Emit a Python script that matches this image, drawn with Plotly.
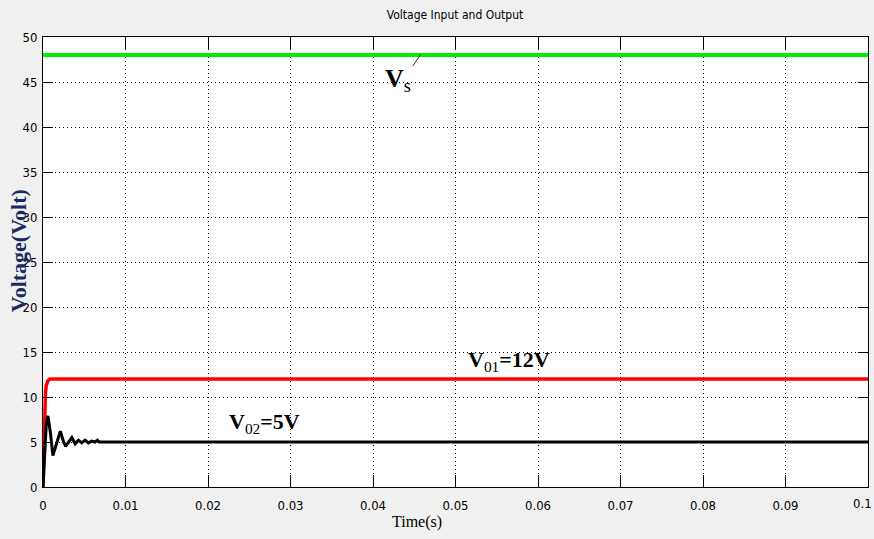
import plotly.graph_objects as go

# Data
t_vs = [0.0, 0.1]
v_s = [48.0, 48.0]

t_v01 = [0.0, 0.0001, 0.0002, 0.0003, 0.0004, 0.0006, 0.0008, 0.0010, 0.1]
v_01 = [0.0, 4.0, 8.5, 10.5, 11.3, 11.8, 12.0, 12.0, 12.0]

t_v02 = [0.0, 0.0002, 0.0004, 0.0006, 0.0009, 0.0012, 0.0016, 0.0021, 0.0025,
         0.00275, 0.0031, 0.0035, 0.0039, 0.0043, 0.0047, 0.0051, 0.0055, 0.0059,
         0.0063, 0.0066, 0.0068, 0.1]
v_02 = [0.0, 3.5, 7.0, 7.9, 6.0, 3.5, 4.8, 6.2, 5.0,
        4.5, 5.0, 5.5, 4.8, 5.2, 4.9, 5.2, 4.9, 5.1,
        5.0, 5.2, 5.0, 5.0]

x_ticks = [0, 0.01, 0.02, 0.03, 0.04, 0.05, 0.06, 0.07, 0.08, 0.09, 0.1]
x_tick_labels = ["0", "0.01", "0.02", "0.03", "0.04", "0.05", "0.06", "0.07", "0.08", "0.09", "0.1"]
y_ticks = [0, 5, 10, 15, 20, 25, 30, 35, 40, 45, 50]

narrow = "DejaVu Sans Condensed, Liberation Sans Narrow, Arial Narrow, sans-serif"
tick_font = dict(family=narrow, size=13, color="black")
serif = "Liberation Serif, Times New Roman, serif"

fig = go.Figure()
fig.add_trace(go.Scatter(x=t_vs, y=v_s, mode="lines", line=dict(color="#00ee00", width=4), showlegend=False))
fig.add_trace(go.Scatter(x=t_v01, y=v_01, mode="lines", line=dict(color="#ff0000", width=3.5), showlegend=False))
fig.add_trace(go.Scatter(x=t_v02, y=v_02, mode="lines", line=dict(color="#000000", width=3), showlegend=False))

fig.update_layout(
    width=874, height=539,
    margin=dict(l=43, r=6, t=37, b=52, autoexpand=False),
    paper_bgcolor="#f0f0f0",
    plot_bgcolor="white",
    showlegend=False,
    title=dict(text="Voltage Input and Output", x=455 / 874, xanchor="center", y=1 - 15 / 539, yanchor="middle",
               font=dict(family=narrow, size=12, color="black")),
)
grid_common = dict(
    showgrid=True, gridcolor="black", griddash="1px,3px", gridwidth=1,
    showline=True, linecolor="black", linewidth=1, mirror="ticks",
    tickcolor="black", zeroline=False, ticks="inside",
    tickfont=tick_font, ticklabeloverflow="allow", automargin=False,
)
# last x tick label is drawn as an annotation so it fits inside the page edge
x_axis_text = x_tick_labels[:-1] + [""]
fig.update_xaxes(range=[0, 0.1], tickvals=x_ticks, ticktext=x_axis_text, ticklen=12,
                 ticklabelstandoff=6, **grid_common)
fig.update_yaxes(range=[0, 50], tickvals=y_ticks, ticklen=10, ticklabelstandoff=2, **grid_common)

plot_w = 874 - 43 - 6
plot_h = 487 - 37
annotations = [
    dict(x=0.0458, y=48.1, ax=0.0447, ay=46.6, axref="x", ayref="y", xref="x", yref="y",
         text="", showarrow=True, arrowhead=0, arrowwidth=1, arrowcolor="#333333"),
    dict(x=0.0449, y=45.2, xref="x", yref="y", showarrow=False, xanchor="right",
         text="<b>V</b><sub>s</sub>", font=dict(family=serif, size=26, color="black")),
    dict(x=0.0565, y=14.0, xref="x", yref="y", showarrow=False,
         text="<b>V</b><sub>01</sub><b>=12V</b>", font=dict(family=serif, size=22, color="black")),
    dict(x=0.0269, y=7.1, xref="x", yref="y", showarrow=False,
         text="<b>V</b><sub>02</sub><b>=5V</b>", font=dict(family=serif, size=22, color="black")),
    dict(x=(417 - 43) / plot_w, y=-(522 - 487) / plot_h, xref="paper", yref="paper",
         showarrow=False, text="Time(s)", yanchor="middle",
         font=dict(family=serif, size=16, color="black")),
    dict(x=-(43 - 18) / plot_w, y=26.2, xref="paper", yref="y", showarrow=False, textangle=-90,
         xanchor="center", text="<b>Voltage(Volt)</b>", font=dict(family=serif, size=22, color="#1a2a5e")),
    dict(x=x_ticks[-1], xref="x", y=-(504 - 487) / plot_h, yref="paper", showarrow=False,
         text=x_tick_labels[-1], xanchor="right", yanchor="middle", xshift=5, borderpad=0,
         font=tick_font),
]
fig.update_layout(annotations=annotations)

fig.write_html("out.html")
